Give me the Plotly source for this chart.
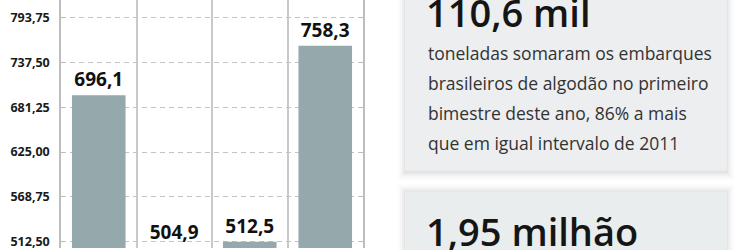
import plotly.graph_objects as go

# ---- data ----
categories = ["C1", "C2", "C3", "C4"]
values = [696.1, 504.9, 512.5, 758.3]
tick_vals = [512.50, 568.75, 625.00, 681.25, 737.50, 793.75]

headline_1 = "110,6 mil"
body_1 = [
    "toneladas somaram os embarques",
    "brasileiros de algodão no primeiro",
    "bimestre deste ano, 86% a mais",
    "que em igual intervalo de 2011",
]
headline_2 = "1,95 milhão"

# ---- layout helpers (pixel -> paper) ----
W, H = 750, 250
ML = 61
PW = W - ML


def xp(px):
    return (px - ML) / PW


def yp(py):
    return 1 - py / H


fig = go.Figure()
fig.add_trace(go.Bar(
    x=categories, y=values, marker=dict(color="#95a9ad", line=dict(width=0)),
    texttemplate="%{y:.1f}", textposition="outside", constraintext="none",
    outsidetextfont=dict(family="Open Sans", size=19, color="#111111", weight=700),
    cliponaxis=False, hoverinfo="skip", showlegend=False,
))

shapes = []


def box(x0, y0, x1, y1, fill):
    for i, a in [(7, 0.015), (5, 0.02), (3, 0.03), (1, 0.04)]:
        shapes.append(dict(type="rect", xref="paper", yref="paper",
                           x0=xp(x0 - i), x1=xp(x1 + i), y0=yp(y1 + i + 2), y1=yp(y0 - i),
                           fillcolor=f"rgba(0,0,0,{a})", line=dict(width=0), layer="below"))
    shapes.append(dict(type="rect", xref="paper", yref="paper",
                       x0=xp(x0), x1=xp(x1), y0=yp(y1), y1=yp(y0),
                       fillcolor=fill, line=dict(width=0), layer="below"))


box(405, -20, 727, 172, "#eceeef")
box(405, 193, 727, 280, "#e9eded")

annotations = [
    dict(text=headline_1, x=xp(424), y=yp(12), xref="paper", yref="paper",
         xanchor="left", yanchor="middle", showarrow=False,
         font=dict(family="Open Sans", size=38, color="#151515", weight=600)),
    dict(text=headline_2, x=xp(424), y=yp(233), xref="paper", yref="paper",
         xanchor="left", yanchor="middle", showarrow=False,
         font=dict(family="Open Sans", size=38, color="#151515", weight=600)),
]
for i, line in enumerate(body_1):
    annotations.append(dict(text=line, x=xp(426), y=yp(53 + 30.3 * i), xref="paper", yref="paper",
                            xanchor="left", yanchor="middle", showarrow=False,
                            font=dict(family="Open Sans", size=17.5, color="#333333")))

fig.update_layout(
    width=W, height=H,
    margin=dict(l=ML, r=0, t=0, b=0),
    paper_bgcolor="white", plot_bgcolor="white",
    separators=",.",
    bargap=0.29,
    shapes=shapes,
    annotations=annotations,
    xaxis=dict(domain=[0, (363 - ML) / PW], type="category", tickson="boundaries",
               showgrid=True, gridcolor="#c9c9c9", gridwidth=1.5,
               showticklabels=False, ticks="", showline=False, zeroline=False),
    yaxis=dict(range=[504.8, 815.5], tickvals=tick_vals, tickformat=".2f",
               showgrid=True, gridcolor="#c4c4c4", gridwidth=1, griddash="5px,4px",
               showline=True, linecolor="#bdbdbd", linewidth=1.5, mirror="ticks",
               ticks="inside", ticklen=4, tickcolor="#bdbdbd",
               ticklabelstandoff=7, ticklabeloverflow="allow", zeroline=False,
               tickfont=dict(family="Open Sans", size=12.5, color="#1a1a1a", weight=700)),
)

fig.write_html("out.html")
